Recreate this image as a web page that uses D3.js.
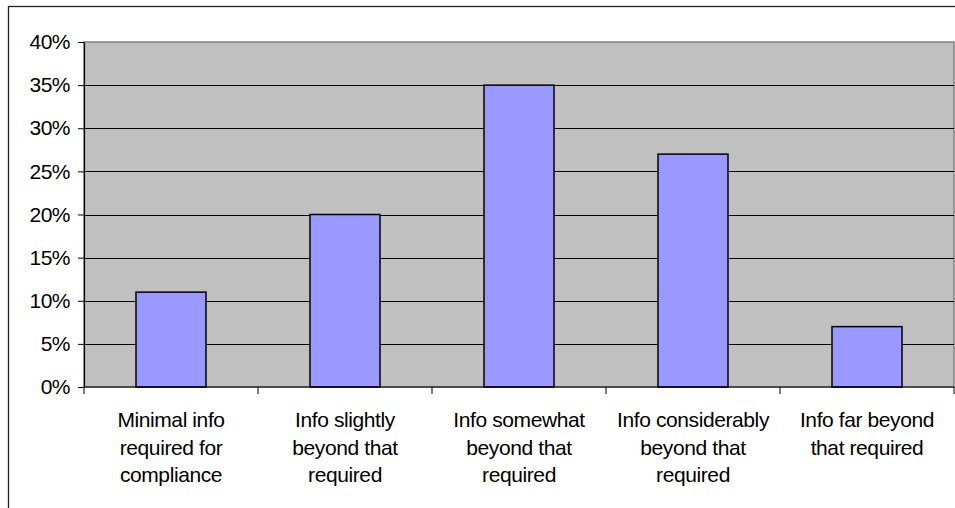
<!DOCTYPE html>
<html>
<head>
<meta charset="utf-8">
<script src="https://cdn.jsdelivr.net/npm/d3@7"></script>
<style>
  body { margin: 0; background: #fff; }
  svg { display: block; }
  text { font-family: "Liberation Sans", Arial, sans-serif; fill: #000; }
</style>
</head>
<body>
<script>
// data
var categories = [
  ["Minimal info", "required for", "compliance"],
  ["Info slightly", "beyond that", "required"],
  ["Info somewhat", "beyond that", "required"],
  ["Info considerably", "beyond that", "required"],
  ["Info far beyond", "that required"]
];
var values = [0.11, 0.20, 0.35, 0.27, 0.07];
var yTicks = [0, 0.05, 0.10, 0.15, 0.20, 0.25, 0.30, 0.35, 0.40];

var W = 955, H = 508;
var plotL = 84, plotR = 954, plotT = 42, plotB = 387;

var svg = d3.select("body").append("svg")
    .attr("width", W)
    .attr("height", H);

// outer chart border (runs off the right and bottom)
svg.append("rect")
    .attr("x", 8.5).attr("y", 6.5)
    .attr("width", W + 10).attr("height", H + 10)
    .attr("fill", "#fff")
    .attr("stroke", "#222")
    .attr("stroke-width", 1.3);

var x = d3.scaleBand()
    .domain(d3.range(categories.length))
    .range([plotL, plotR])
    .paddingInner(0)
    .paddingOuter(0);

var y = d3.scaleLinear()
    .domain([0, 0.40])
    .range([plotB, plotT]);

// plot background
svg.append("rect")
    .attr("x", plotL).attr("y", plotT)
    .attr("width", plotR - plotL).attr("height", plotB - plotT)
    .attr("fill", "#c0c0c0")
    .attr("stroke", "#808080")
    .attr("stroke-width", 1.5);

// gridlines
svg.selectAll("line.grid")
    .data(yTicks.slice(1, -1))
    .enter().append("line")
    .attr("class", "grid")
    .attr("x1", plotL).attr("x2", plotR)
    .attr("y1", function (d) { return Math.round(y(d)) + 0.5; })
    .attr("y2", function (d) { return Math.round(y(d)) + 0.5; })
    .attr("stroke", "#000")
    .attr("stroke-width", 1);

// bars
var bw = 70;
svg.selectAll("rect.bar")
    .data(values)
    .enter().append("rect")
    .attr("class", "bar")
    .attr("x", function (d, i) { return x(i) + x.bandwidth() / 2 - bw / 2; })
    .attr("y", function (d) { return y(d); })
    .attr("width", bw)
    .attr("height", function (d) { return y(0) - y(d); })
    .attr("fill", "#9999ff")
    .attr("stroke", "#000")
    .attr("stroke-width", 1.5);

// y axis
var yAxis = d3.axisLeft(y)
    .tickValues(yTicks)
    .tickFormat(d3.format(".0%"))
    .tickSizeInner(6)
    .tickSizeOuter(0)
    .tickPadding(8);

var gy = svg.append("g")
    .attr("transform", "translate(" + plotL + ",0)")
    .call(yAxis);
gy.attr("font-family", null).attr("font-size", null);
gy.select(".domain").attr("stroke", "#000").attr("stroke-width", 1.2);
gy.selectAll(".tick line").attr("stroke", "#000");
gy.selectAll(".tick text")
    .style("font-size", "21px")
    .style("letter-spacing", "-0.5px");

// x axis line and ticks at category boundaries
svg.append("line")
    .attr("x1", plotL).attr("x2", plotR)
    .attr("y1", plotB).attr("y2", plotB)
    .attr("stroke", "#000").attr("stroke-width", 1.2);

var bounds = d3.range(categories.length + 1).map(function (i) {
  return i < categories.length ? x(i) : plotR;
});
svg.selectAll("line.xtick")
    .data(bounds)
    .enter().append("line")
    .attr("class", "xtick")
    .attr("x1", function (d) { return d; })
    .attr("x2", function (d) { return d; })
    .attr("y1", plotB).attr("y2", plotB + 7)
    .attr("stroke", "#000");

// category labels
var lab = svg.selectAll("text.cat")
    .data(categories)
    .enter().append("text")
    .attr("class", "cat")
    .attr("text-anchor", "middle")
    .style("font-size", "21px")
    .style("letter-spacing", "-0.4px");

lab.selectAll("tspan")
    .data(function (d, i) { return d.map(function (t) { return { t: t, i: i }; }); })
    .enter().append("tspan")
    .attr("x", function (d) { return x(d.i) + x.bandwidth() / 2; })
    .attr("y", function (d, j) { return 427 + j * 27.5; })
    .text(function (d) { return d.t; });
</script>
</body>
</html>
